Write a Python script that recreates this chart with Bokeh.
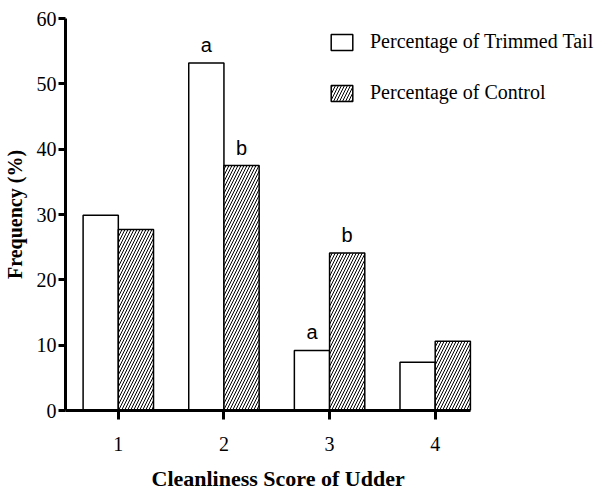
from bokeh.plotting import figure
from bokeh.models import ColumnDataSource, Range1d, FixedTicker, Legend, LegendItem
from bokeh.embed import file_html
from bokeh.resources import INLINE
from bokeh.core.properties import value

# ---- data ----
scores = [1, 2, 3, 4]
trimmed = [29.9, 53.2, 9.2, 7.4]
control = [27.7, 37.5, 24.1, 10.6]
trimmed_letters = ["", "a", "a", ""]
control_letters = ["", "b", "b", ""]
y_ticks = [0, 10, 20, 30, 40, 50, 60]
series_names = ["Percentage of Trimmed Tail", "Percentage of Control"]
x_title = "Cleanliness Score of Udder"
y_title = "Frequency (%)"

bar_w = 1 / 3
src_t = ColumnDataSource(dict(x=[s - bar_w / 2 for s in scores], top=trimmed, lab=trimmed_letters))
src_c = ColumnDataSource(dict(x=[s + bar_w / 2 for s in scores], top=control, lab=control_letters))

W, H = 597, 500
left, right, top, bottom = 57, 0, 18, 89
axis_end = max(scores) + bar_w
px_per_unit = 411 / (axis_end - 0.5)
x_end = 0.5 + (W - left - right) / px_per_unit

p = figure(width=W, height=H, output_backend="svg", toolbar_location=None,
           x_range=Range1d(0.5, x_end), y_range=Range1d(0, 60),
           min_border_left=left, min_border_right=right, min_border_top=top, min_border_bottom=bottom,
           title=x_title, title_location="below")
p.outline_line_color = None
p.grid.visible = False
p.background_fill_color = "white"

serif = "Liberation Serif"

rt = p.vbar(x="x", top="top", width=bar_w, source=src_t, fill_color="white",
            line_color="black", line_width=1.5)
rc = p.vbar(x="x", top="top", width=bar_w, source=src_c, fill_color="white",
            line_color="black", line_width=1.5, hatch_pattern="/", hatch_color="black",
            hatch_weight=1, hatch_scale=6)

p.text(x="x", y="top", text="lab", source=src_t, text_align="center", text_baseline="bottom",
       y_offset=-7, text_font=value("Liberation Sans"), text_font_size="20px", text_color="black")
p.text(x="x", y="top", text="lab", source=src_c, text_align="center", text_baseline="bottom",
       y_offset=-7, text_font=value("Liberation Sans"), text_font_size="20px", text_color="black")

# axes
for ax in (p.xaxis[0], p.yaxis[0]):
    ax.axis_line_width = 3
    ax.axis_line_color = "black"
    ax.major_tick_line_width = 3
    ax.major_tick_line_color = "black"
    ax.major_tick_in = 0
    ax.minor_tick_line_color = None
    ax.major_label_text_font = serif
    ax.major_label_text_font_size = "20px"
    ax.major_label_text_color = "black"
    ax.axis_label_text_font = serif
    ax.axis_label_text_font_style = "bold"
    ax.axis_label_text_color = "black"

p.xaxis.bounds = (0.5, axis_end)
p.xaxis.ticker = FixedTicker(ticks=scores)
p.xaxis.major_tick_out = 9
p.xaxis.major_label_standoff = 17

# x-axis title (centred under the bars, not under the wider frame)
p.title.text_font = serif
p.title.text_font_style = "bold"
p.title.text_font_size = "22px"
p.title.text_color = "black"
p.title.align = "left"
p.title.offset = 86
p.title.standoff = 20

p.yaxis.ticker = FixedTicker(ticks=y_ticks)
p.yaxis.major_tick_out = 7
p.yaxis.major_label_standoff = 2
p.yaxis.axis_label = y_title
p.yaxis.axis_label_text_font_size = "20px"
p.yaxis.axis_label_standoff = 8

legend = Legend(items=[LegendItem(label=series_names[0], renderers=[rt]),
                       LegendItem(label=series_names[1], renderers=[rc])],
                location=(263, 306))
legend.border_line_color = None
legend.background_fill_alpha = 0
legend.padding = 0
legend.margin = 0
legend.glyph_width = 27
legend.glyph_height = 20
legend.label_height = 20
legend.spacing = 28
legend.label_standoff = 15
legend.label_text_font = serif
legend.label_text_font_size = "20px"
legend.label_text_color = "black"
p.add_layout(legend, "center")

open("out.html", "w").write(file_html(p, INLINE))
